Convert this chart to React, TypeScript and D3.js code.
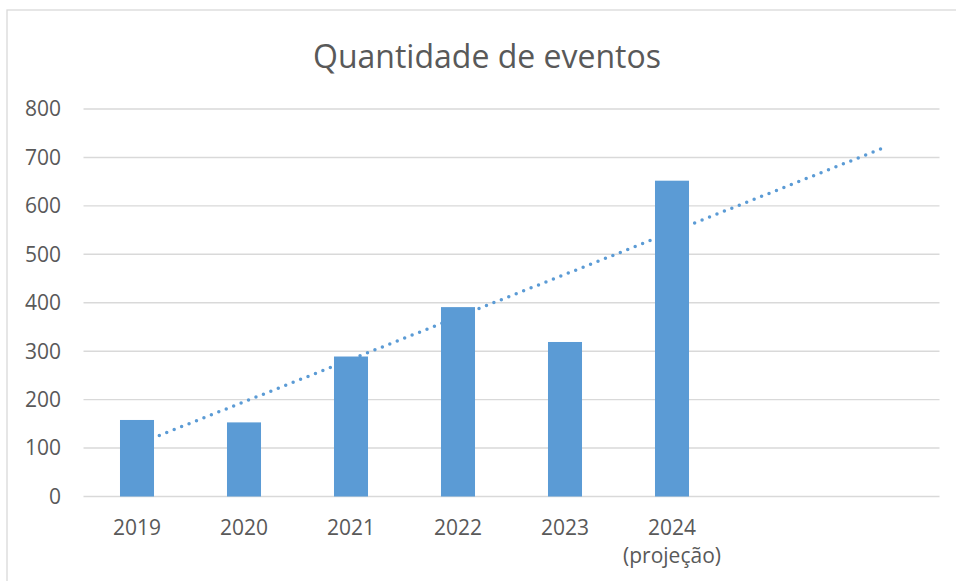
import React from 'react';
import * as d3 from 'd3';

const title = 'Quantidade de eventos';
const categories = ['2019', '2020', '2021', '2022', '2023', '2024'];
const categorySubLabels = ['', '', '', '', '', '(projeção)'];
const values = [158, 153, 289, 391, 319, 652];
const emptySlots = 2;
const yTicks = [0, 100, 200, 300, 400, 500, 600, 700, 800];

const W = 956;
const H = 581;
const FONT = '"Open Sans", sans-serif';
const TEXT = '#595959';
const GRID = '#d9d9d9';
const BAR = '#5b9bd5';

export default function App() {
  const n = categories.length + emptySlots;
  const slots = d3.range(n);
  const x = d3
    .scaleBand<number>()
    .domain(slots)
    .range([83.5, 939.5])
    .paddingInner(0.682)
    .paddingOuter(0.341);
  const y = d3.scaleLinear().domain([0, 800]).range([496.5, 109]);
  const cx = (i: number) => (x(i) as number) + x.bandwidth() / 2;

  // linear regression trendline (x = 1..N)
  const xs = values.map((_, i) => i + 1);
  const mx = d3.mean(xs) as number;
  const my = d3.mean(values) as number;
  const sxy = d3.sum(xs.map((xi, i) => (xi - mx) * (values[i] - my)));
  const sxx = d3.sum(xs.map((xi) => (xi - mx) ** 2));
  const slope = sxy / sxx;
  const intercept = my - slope * mx;
  const trendPts: [number, number][] = [0, n - 1].map((i) => [cx(i), y(intercept + slope * (i + 1))]);
  const trendPath = d3.line()(trendPts) as string;

  return (
    <svg
      width={W}
      height={H}
      style={{ position: 'absolute', left: 0, top: 0, display: 'block', background: '#fff' }}
      fontFamily={FONT}
    >
      <rect x={7} y={10} width={W + 10} height={H + 10} fill="#fff" stroke={GRID} strokeWidth={1.3} />
      <text x={487} y={67.5} textAnchor="middle" fontSize={32} fill={TEXT}>
        {title}
      </text>
      {yTicks.map((t) => (
        <g key={t}>
          <line x1={83.5} x2={939.5} y1={y(t)} y2={y(t)} stroke={GRID} strokeWidth={1.4} />
          <text x={61} y={y(t)} dy="0.35em" textAnchor="end" fontSize={21} fill={TEXT}>
            {t}
          </text>
        </g>
      ))}
      <path d={trendPath} fill="none" stroke={BAR} strokeWidth={3.5} strokeDasharray="0 8" strokeLinecap="round" />
      {values.map((v, i) => (
        <rect key={i} x={x(i)} y={y(v)} width={x.bandwidth()} height={y(0) - y(v)} fill={BAR} />
      ))}
      {categories.map((c, i) => (
        <g key={c}>
          <text x={cx(i)} y={535} textAnchor="middle" fontSize={21} fill={TEXT}>
            {c}
          </text>
          {categorySubLabels[i] && (
            <text x={cx(i)} y={563} textAnchor="middle" fontSize={21} fill={TEXT}>
              {categorySubLabels[i]}
            </text>
          )}
        </g>
      ))}
    </svg>
  );
}
